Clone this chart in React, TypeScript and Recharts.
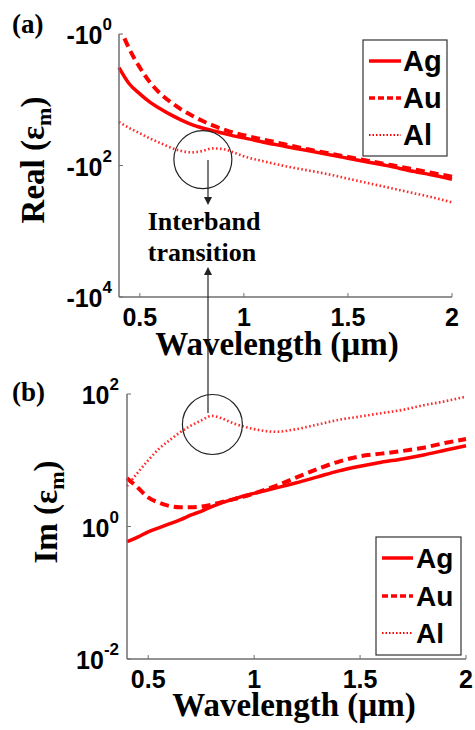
import React from 'react';
import { LineChart, Line, XAxis, YAxis, ReferenceDot } from 'recharts';

// wavelength grid (µm)
const wavelengths = [0.4, 0.45, 0.5, 0.55, 0.6, 0.65, 0.7, 0.75, 0.8, 0.85, 0.9, 0.95, 1.0, 1.1, 1.2, 1.3, 1.4, 1.5, 1.6, 1.7, 1.8, 1.9, 2.0];

// (a) log10 |Re(eps_m)|  (real part is negative)
const realAgLog = [0.51, 0.76, 0.91, 1.04, 1.14, 1.23, 1.31, 1.38, 1.43, 1.47, 1.51, 1.55, 1.58, 1.65, 1.71, 1.77, 1.83, 1.89, 1.95, 2.01, 2.08, 2.14, 2.21];
const realAuLog = [-0.13, 0.23, 0.51, 0.74, 0.91, 1.04, 1.15, 1.24, 1.32, 1.39, 1.45, 1.5, 1.54, 1.61, 1.68, 1.75, 1.81, 1.87, 1.93, 1.99, 2.05, 2.11, 2.17];
const realAlLog = [1.34, 1.43, 1.51, 1.59, 1.66, 1.73, 1.78, 1.8, 1.78, 1.74, 1.75, 1.8, 1.86, 1.94, 2.01, 2.07, 2.13, 2.2, 2.27, 2.34, 2.41, 2.48, 2.56];

// (b) log10 Im(eps_m)
const imAgLog = [-0.23, -0.16, -0.08, -0.02, 0.04, 0.1, 0.17, 0.23, 0.3, 0.36, 0.41, 0.46, 0.5, 0.58, 0.66, 0.75, 0.84, 0.91, 0.97, 1.02, 1.08, 1.15, 1.22];
const imAuLog = [0.73, 0.59, 0.44, 0.36, 0.31, 0.29, 0.29, 0.3, 0.33, 0.37, 0.41, 0.45, 0.5, 0.61, 0.74, 0.87, 0.98, 1.06, 1.1, 1.14, 1.19, 1.26, 1.32];
const imAlLog = [0.61, 0.81, 1.0, 1.17, 1.3, 1.42, 1.52, 1.6, 1.67, 1.63, 1.56, 1.51, 1.47, 1.43, 1.47, 1.54, 1.61, 1.66, 1.71, 1.76, 1.83, 1.89, 1.96];

const xTicks = [0.5, 1, 1.5, 2];
const realTicks = [0, -2, -4];
const realTickExp = ['0', '2', '4'];
const imTicks = [2, 0, -2];
const imTickExp = ['2', '0', '-2'];
const seriesNames = ['Ag', 'Au', 'Al'];

// interband transition markers (wavelength, log10 value)
const realMarker = { w: 0.803, v: -1.91 };
const imMarker = { w: 0.803, v: 1.54 };

const realData = wavelengths.map((w, i) => ({ w, Ag: -realAgLog[i], Au: -realAuLog[i], Al: -realAlLog[i] }));
const imData = wavelengths.map((w, i) => ({ w, Ag: imAgLog[i], Au: imAuLog[i], Al: imAlLog[i] }));

const FRAME = '#6f6f6f';
const RED = '#ff0000';
const SANS = "'Liberation Sans', Arial, sans-serif";
const SERIF = "'Liberation Serif', 'Times New Roman', serif";

const XTickBottom = (p: any) => (
  <g>
    <line x1={p.x} y1={p.y} x2={p.x} y2={p.y - 4} stroke={FRAME} strokeWidth={1} />
    <text x={p.x} y={p.y + 29} textAnchor="middle" fontFamily={SANS} fontWeight="bold" fontSize={25} fill="#000">
      {String(p.payload.value)}
    </text>
  </g>
);
const XTickTop = (p: any) => (
  <line x1={p.x} y1={p.y} x2={p.x} y2={p.y + 4} stroke={FRAME} strokeWidth={1} />
);
const YTickRight = (p: any) => (
  <line x1={p.x} y1={p.y} x2={p.x - 4} y2={p.y} stroke={FRAME} strokeWidth={1} />
);
const makeYTickLeft = (ticks: number[], exps: string[], base: string, gap: number) => (p: any) => {
  const idx = ticks.indexOf(p.payload.value);
  return (
    <g>
      <line x1={p.x} y1={p.y} x2={p.x + 4} y2={p.y} stroke={FRAME} strokeWidth={1} />
      <text x={p.x - gap} y={p.y + 10} textAnchor="end" fontFamily={SANS} fontWeight="bold" fontSize={25} fill="#000">
        <tspan>{base}</tspan>
        <tspan dy={-14} fontSize={17}>{exps[idx]}</tspan>
      </text>
    </g>
  );
};
const RealYTick = makeYTickLeft(realTicks, realTickExp, '-10', 7);
const ImYTick = makeYTickLeft(imTicks, imTickExp, '10', 8);

const seriesLines = () => [
  <Line key="Al" dataKey="Al" type="monotone" stroke="#ff2a2a" strokeWidth={2.6} strokeDasharray="1.6 2.4" dot={false} isAnimationActive={false} />,
  <Line key="Ag" dataKey="Ag" type="monotone" stroke={RED} strokeWidth={3.5} dot={false} isAnimationActive={false} />,
  <Line key="Au" dataKey="Au" type="monotone" stroke={RED} strokeWidth={4} strokeDasharray="9 5" dot={false} isAnimationActive={false} />,
];

const LegendBox = ({ x, y, w, h, rows, lx1, lx2, tx, fs }: any) => (
  <g>
    <rect x={x} y={y} width={w} height={h} fill="#fff" stroke="#333" strokeWidth={1.2} />
    {seriesNames.map((n, i) => {
      const dash = i === 0 ? undefined : i === 1 ? '6 3' : '1.5 2';
      const sw = i === 2 ? 2 : 3.5;
      return (
        <g key={n}>
          <line x1={lx1} x2={lx2} y1={rows[i]} y2={rows[i]} stroke={RED} strokeWidth={sw} strokeDasharray={dash} />
          <text x={tx} y={rows[i] + 10} fontFamily={SANS} fontWeight="bold" fontSize={fs} fill="#000">{n}</text>
        </g>
      );
    })}
  </g>
);

export default function App() {
  return (
    <div style={{ position: 'absolute', left: 0, top: 0, width: 475, height: 730, background: '#fff' }}>
      <div style={{ position: 'absolute', left: 0, top: 0 }}>
        <LineChart width={475} height={360} data={realData} margin={{ top: 34, right: 23, bottom: 0, left: 0 }}>
          <XAxis dataKey="w" type="number" domain={[0.4, 2]} ticks={xTicks} interval={0} height={63} tickSize={0} tickMargin={0}
            axisLine={{ stroke: FRAME, strokeWidth: 1.5 }} tick={<XTickBottom />} />
          <XAxis xAxisId="top" orientation="top" dataKey="w" type="number" domain={[0.4, 2]} ticks={xTicks} interval={0} height={0}
            tickSize={0} tickMargin={0} axisLine={{ stroke: FRAME, strokeWidth: 1.5 }} tick={<XTickTop />} />
          <YAxis type="number" domain={[-4, 0]} ticks={realTicks} interval={0} width={119} allowDataOverflow tickSize={0} tickMargin={0}
            axisLine={{ stroke: FRAME, strokeWidth: 1.5 }} tick={<RealYTick />} />
          <YAxis yAxisId="right" orientation="right" type="number" domain={[-4, 0]} ticks={realTicks} interval={0} width={0}
            tickSize={0} tickMargin={0} axisLine={{ stroke: FRAME, strokeWidth: 1.5 }} tick={<YTickRight />} />
          {seriesLines()}
          <ReferenceDot x={realMarker.w} y={realMarker.v} r={29} fill="none" stroke="#222" strokeWidth={1.2} />
        </LineChart>
      </div>
      <div style={{ position: 'absolute', left: 0, top: 365 }}>
        <LineChart width={475} height={365} data={imData} margin={{ top: 29, right: 9, bottom: 0, left: 0 }}>
          <XAxis dataKey="w" type="number" domain={[0.4, 2]} ticks={xTicks} interval={0} height={71} tickSize={0} tickMargin={0}
            axisLine={{ stroke: FRAME, strokeWidth: 1.5 }} tick={<XTickBottom />} />
          <XAxis xAxisId="top" orientation="top" dataKey="w" type="number" domain={[0.4, 2]} ticks={xTicks} interval={0} height={0}
            tickSize={0} tickMargin={0} axisLine={{ stroke: FRAME, strokeWidth: 1.5 }} tick={<XTickTop />} />
          <YAxis type="number" domain={[-2, 2]} ticks={imTicks} interval={0} width={127} allowDataOverflow tickSize={0} tickMargin={0}
            axisLine={{ stroke: FRAME, strokeWidth: 1.5 }} tick={<ImYTick />} />
          <YAxis yAxisId="right" orientation="right" type="number" domain={[-2, 2]} ticks={imTicks} interval={0} width={0}
            tickSize={0} tickMargin={0} axisLine={{ stroke: FRAME, strokeWidth: 1.5 }} tick={<YTickRight />} />
          {seriesLines()}
          <ReferenceDot x={imMarker.w} y={imMarker.v} r={30} fill="none" stroke="#222" strokeWidth={1.2} />
        </LineChart>
      </div>
      <svg width={475} height={730} style={{ position: 'absolute', left: 0, top: 0, pointerEvents: 'none' }}>
        <text x={12} y={33} fontFamily={SERIF} fontWeight="bold" fontSize={27}>(a)</text>
        <text x={12} y={401} fontFamily={SERIF} fontWeight="bold" fontSize={27}>(b)</text>
        <text x={44} y={160} transform="rotate(-90 44 160)" textAnchor="middle" fontFamily={SERIF} fontWeight="bold" fontSize={33}>
          <tspan>Real (ε</tspan><tspan fontSize={22} dy={7}>m</tspan><tspan dy={-7}>)</tspan>
        </text>
        <text x={57} y={512} transform="rotate(-90 57 512)" textAnchor="middle" fontFamily={SERIF} fontWeight="bold" fontSize={33}>
          <tspan>Im (ε</tspan><tspan fontSize={22} dy={7}>m</tspan><tspan dy={-7}>)</tspan>
        </text>
        <text x={277} y={355} textAnchor="middle" fontFamily={SERIF} fontWeight="bold" fontSize={33}>Wavelength (µm)</text>
        <text x={294} y={716} textAnchor="middle" fontFamily={SERIF} fontWeight="bold" fontSize={33}>Wavelength (µm)</text>
        <text x={204} y={230} textAnchor="middle" fontFamily={SERIF} fontWeight="bold" fontSize={26}>Interband</text>
        <text x={202} y={261} textAnchor="middle" fontFamily={SERIF} fontWeight="bold" fontSize={26}>transition</text>
        <line x1={208} y1={160} x2={208} y2={199} stroke="#222" strokeWidth={1.2} />
        <polygon points="204,197 212,197 208,205" fill="#222" />
        <line x1={208} y1={273} x2={208} y2={413} stroke="#222" strokeWidth={1.2} />
        <polygon points="204,275 212,275 208,267" fill="#222" />
        <LegendBox x={363} y={40} w={84} h={116} rows={[61, 98, 135]} lx1={369} lx2={401} tx={403} fs={29} />
        <LegendBox x={376} y={537} w={85} h={118} rows={[558, 596, 633]} lx1={382} lx2={413} tx={416} fs={28} />
      </svg>
    </div>
  );
}
